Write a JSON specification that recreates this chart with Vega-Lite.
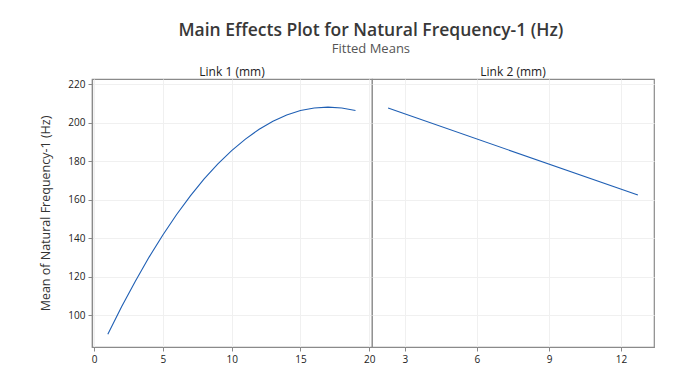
{
  "$schema": "https://vega.github.io/schema/vega-lite/v6.json",
  "padding": {"left": 39, "top": 21, "right": 35, "bottom": 10},
  "background": "white",
  "title": {
    "text": "Main Effects Plot for Natural Frequency-1 (Hz)",
    "subtitle": "Fitted Means",
    "font": "Open Sans",
    "fontSize": 17.5,
    "fontWeight": 600,
    "color": "#383838",
    "subtitleFont": "Open Sans",
    "subtitleFontSize": 13,
    "subtitleColor": "#555555",
    "subtitlePadding": 4,
    "offset": 9,
    "dx": 24,
    "anchor": "middle"
  },
  "datasets": {
    "link1": [
      {"x": 1, "y": 90.0}, {"x": 2, "y": 104.3}, {"x": 3, "y": 117.6}, {"x": 4, "y": 130.1},
      {"x": 5, "y": 141.6}, {"x": 6, "y": 152.2}, {"x": 7, "y": 161.9}, {"x": 8, "y": 170.7},
      {"x": 9, "y": 178.5}, {"x": 10, "y": 185.4}, {"x": 11, "y": 191.4}, {"x": 12, "y": 196.5},
      {"x": 13, "y": 200.6}, {"x": 14, "y": 203.9}, {"x": 15, "y": 206.2}, {"x": 16, "y": 207.5},
      {"x": 17, "y": 208.0}, {"x": 18, "y": 207.5}, {"x": 19, "y": 206.2}
    ],
    "link2": [
      {"x": 2.3, "y": 207.5}, {"x": 12.7, "y": 162.3}
    ],
    "strip1": [{"t": "Link 1 (mm)"}],
    "strip2": [{"t": "Link 2 (mm)"}]
  },
  "spacing": 0,
  "vconcat": [
    {
      "spacing": 0,
      "bounds": "flush",
      "hconcat": [
        {
          "width": 280,
          "height": 13,
          "data": {"name": "strip1"},
          "mark": {"type": "text", "font": "Open Sans", "fontSize": 12, "fontWeight": 500, "color": "#222222", "baseline": "middle", "align": "center"},
          "encoding": {"text": {"field": "t"}}
        },
        {
          "width": 282,
          "height": 13,
          "data": {"name": "strip2"},
          "mark": {"type": "text", "font": "Open Sans", "fontSize": 12, "fontWeight": 500, "color": "#222222", "baseline": "middle", "align": "center"},
          "encoding": {"text": {"field": "t"}}
        }
      ]
    },
    {
      "spacing": 0,
      "bounds": "flush",
      "hconcat": [
        {
          "width": 280,
          "height": 268,
          "data": {"name": "link1"},
          "mark": {"type": "line", "color": "#1f5fb4", "strokeWidth": 1.1, "clip": true},
          "encoding": {
            "x": {
              "field": "x", "type": "quantitative",
              "scale": {"domain": [-0.15, 20.2], "nice": false, "zero": false},
              "axis": {"values": [0, 5, 10, 15, 20], "title": null}
            },
            "y": {
              "field": "y", "type": "quantitative",
              "scale": {"domain": [83.4, 222.6], "nice": false, "zero": false},
              "axis": {"values": [100, 120, 140, 160, 180, 200, 220], "title": "Mean of Natural Frequency-1 (Hz)", "titlePadding": 15}
            }
          }
        },
        {
          "width": 282,
          "height": 268,
          "data": {"name": "link2"},
          "mark": {"type": "line", "color": "#1f5fb4", "strokeWidth": 1.1, "clip": true},
          "encoding": {
            "x": {
              "field": "x", "type": "quantitative",
              "scale": {"domain": [1.63, 13.37], "nice": false, "zero": false},
              "axis": {"values": [3, 6, 9, 12], "title": null}
            },
            "y": {
              "field": "y", "type": "quantitative",
              "scale": {"domain": [83.4, 222.6], "nice": false, "zero": false},
              "axis": {"values": [100, 120, 140, 160, 180, 200, 220], "title": null, "labels": false, "ticks": false, "domain": false}
            }
          }
        }
      ]
    }
  ],
  "config": {
    "view": {"stroke": "#8a8a8a", "strokeWidth": 1.2, "fill": "white"},
    "axis": {
      "labelFont": "Open Sans",
      "labelFontSize": 10,
      "labelColor": "#222222",
      "labelPadding": 3,
      "tickColor": "#8a8a8a",
      "tickSize": 4,
      "domainColor": "#8a8a8a",
      "domainWidth": 1.2,
      "gridColor": "#f0f0f0",
      "grid": true,
      "titleFont": "Open Sans",
      "titleFontSize": 12.5,
      "titleFontWeight": "normal",
      "titleColor": "#333333"
    }
  }
}
